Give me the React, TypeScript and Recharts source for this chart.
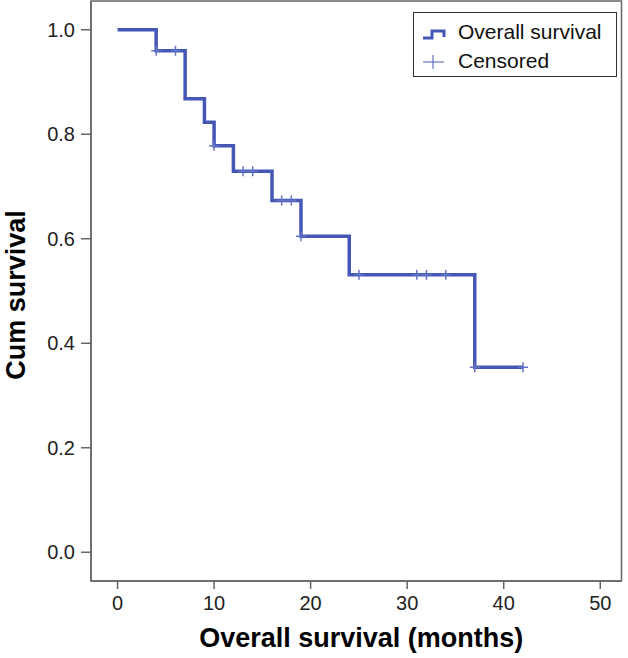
import React from "react";
import {
  ComposedChart,
  Line,
  Scatter,
  XAxis,
  YAxis,
  ReferenceArea,
  Legend,
  Label,
} from "recharts";

const xTicks = [0, 10, 20, 30, 40, 50];
const yTicks = [0, 0.2, 0.4, 0.6, 0.8, 1.0];
const eventTimes = [0, 4, 7, 9, 10, 12, 16, 19, 24, 37, 42];
const survival = [1, 0.96, 0.868, 0.823, 0.778, 0.729, 0.673, 0.605, 0.531, 0.354, 0.354];
const censorTimes = [4, 6, 10, 13, 14, 17, 18, 19, 25, 31, 32, 34, 37, 42];

const X_DOMAIN: [number, number] = [-2.75, 52.2];
const Y_DOMAIN: [number, number] = [-0.055, 1.055];

const LINE_COLOR = "#4457B5";
const CENSOR_COLOR = "#6474C4";
const AXIS_COLOR = "#666666";
const FONT = "'Liberation Sans', Arial, sans-serif";

const stepData = eventTimes.map((t, i) => ({ t, s: survival[i] }));
const survAt = (t: number) => {
  let v = survival[0];
  for (let i = 0; i < eventTimes.length; i++) {
    if (eventTimes[i] <= t) v = survival[i];
  }
  return v;
};
const censorData = censorTimes.map((t) => ({ t, s: survAt(t) }));

const CensorMark = (props: any) => {
  const { cx, cy } = props;
  if (cx == null || cy == null) return null;
  return (
    <g>
      <line x1={cx} x2={cx} y1={cy - 5} y2={cy + 5} stroke={CENSOR_COLOR} strokeWidth={1.5} />
      <line x1={cx - 5} x2={cx + 5} y1={cy} y2={cy} stroke={CENSOR_COLOR} strokeWidth={1.5} />
    </g>
  );
};

const LegendBox = () => (
  <div
    style={{
      width: 204,
      height: 65,
      boxSizing: "border-box",
      border: "1px solid #333",
      background: "#fff",
      fontFamily: FONT,
      fontSize: 21,
      color: "#111",
      position: "relative",
    }}
  >
    <svg width={24} height={14} style={{ position: "absolute", left: 8, top: 14 }}>
      <polyline points="1,11 10,11 10,4 22,4 22,10" fill="none" stroke={LINE_COLOR} strokeWidth={3} />
    </svg>
    <span style={{ position: "absolute", left: 44, top: 7, lineHeight: "24px", whiteSpace: "nowrap" }}>
      Overall survival
    </span>
    <svg width={24} height={16} style={{ position: "absolute", left: 8, top: 41 }}>
      <line x1={1} x2={22} y1={8} y2={8} stroke={CENSOR_COLOR} strokeWidth={1.2} />
      <line x1={11} x2={11} y1={1} y2={15} stroke={CENSOR_COLOR} strokeWidth={1.2} />
    </svg>
    <span style={{ position: "absolute", left: 44, top: 36, lineHeight: "24px", whiteSpace: "nowrap" }}>
      Censored
    </span>
  </div>
);

const XTitle = (props: any) => {
  const vb = props.viewBox || {};
  const cx = vb.x + vb.width / 2 + 5;
  const y = vb.y + 66;
  return (
    <text x={cx} y={y} textAnchor="middle" fontFamily={FONT} fontWeight="bold" fontSize={27} fill="#000">
      Overall survival (months)
    </text>
  );
};

const YTitle = (props: any) => {
  const vb = props.viewBox || {};
  const x = 25;
  const y = vb.y + vb.height / 2 + 4;
  return (
    <text
      x={x}
      y={y}
      textAnchor="middle"
      transform={`rotate(-90, ${x}, ${y})`}
      fontFamily={FONT}
      fontWeight="bold"
      fontSize={27}
      fill="#000"
    >
      Cum survival
    </text>
  );
};

export default function App() {
  return (
    <div style={{ position: "absolute", left: 0, top: 0 }}>
      <ComposedChart
        width={628}
        height={658}
        margin={{ top: 1, right: 6.5, bottom: 0, left: 0 }}
        style={{ fontFamily: FONT }}
      >
        <XAxis
          dataKey="t"
          type="number"
          domain={X_DOMAIN}
          allowDataOverflow
          ticks={xTicks}
          height={77}
          tickSize={8}
          tickMargin={7}
          stroke={AXIS_COLOR}
          strokeWidth={1.5}
          tick={{ fill: "#222", fontSize: 20, fontFamily: FONT }}
        >
          <Label content={<XTitle />} />
        </XAxis>
        <YAxis
          dataKey="s"
          type="number"
          domain={Y_DOMAIN}
          allowDataOverflow
          ticks={yTicks}
          width={91}
          tickSize={10}
          tickMargin={6}
          stroke={AXIS_COLOR}
          strokeWidth={1.5}
          tickFormatter={(v: number) => v.toFixed(1)}
          tick={{ fill: "#222", fontSize: 20, fontFamily: FONT }}
        >
          <Label content={<YTitle />} />
        </YAxis>
        <ReferenceArea
          x1={X_DOMAIN[0]}
          x2={X_DOMAIN[1]}
          y1={Y_DOMAIN[0]}
          y2={Y_DOMAIN[1]}
          fill="none"
          fillOpacity={0}
          stroke={AXIS_COLOR}
          strokeWidth={1.5}
          ifOverflow="visible"
        />
        <Line
          data={stepData}
          dataKey="s"
          type="stepAfter"
          stroke={LINE_COLOR}
          strokeWidth={3.5}
          dot={false}
          activeDot={false}
          isAnimationActive={false}
          legendType="none"
        />
        <Scatter
          data={censorData}
          dataKey="s"
          shape={<CensorMark />}
          isAnimationActive={false}
          legendType="none"
        />
        <Legend
          layout="vertical"
          align="center"
          verticalAlign="middle"
          content={<LegendBox />}
          wrapperStyle={{ position: "absolute", left: 413, top: 12, width: 204, height: 65 }}
        />
      </ComposedChart>
    </div>
  );
}
